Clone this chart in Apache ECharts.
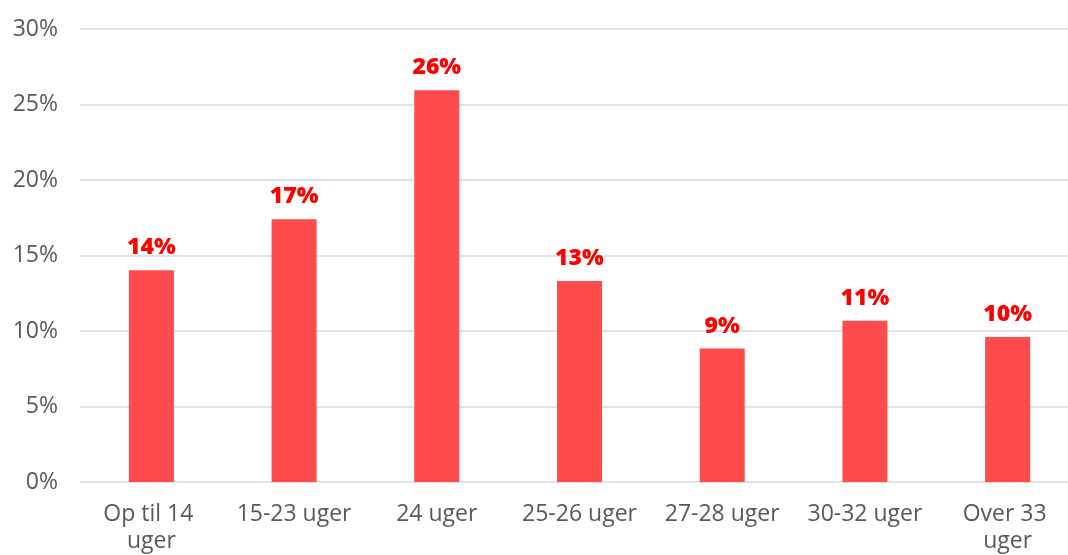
<!DOCTYPE html>
<html>
<head>
<meta charset="utf-8">
<script src="https://cdn.jsdelivr.net/npm/echarts@6/dist/echarts.min.js"></script>
<style>html,body{margin:0;padding:0;background:#fff;overflow:hidden}#wrap{width:1068px;height:555px;overflow:hidden;position:relative}#c{width:1079px;height:555px;position:absolute;left:0;top:0}</style>
</head>
<body>
<div id="wrap"><div id="c"></div></div>
<script>
const categories = ['Op til 14 uger', '15-23 uger', '24 uger', '25-26 uger', '27-28 uger', '30-32 uger', 'Over 33 uger'];
const values = [14.03, 17.4, 25.94, 13.31, 8.84, 10.68, 9.6];
const yTicks = { min: 0, max: 30, interval: 5 };

const chart = echarts.init(document.getElementById('c'), null, { renderer: 'canvas' });
chart.setOption({
  animation: false,
  grid: { left: 80, top: 29, right: 0, bottom: 67, containLabel: false },
  xAxis: {
    type: 'category',
    data: categories,
    axisLine: { show: false },
    axisTick: { show: false },
    axisLabel: {
      color: '#595959', fontFamily: 'Open Sans', fontSize: 23, margin: 19,
      width: 135, overflow: 'break', lineHeight: 27, interval: 0
    }
  },
  yAxis: {
    type: 'value',
    min: yTicks.min, max: yTicks.max, interval: yTicks.interval,
    axisLine: { show: false },
    axisTick: { show: false },
    axisLabel: { color: '#595959', fontFamily: 'Open Sans', fontSize: 23, margin: 22, formatter: v => v + '%' },
    splitLine: { lineStyle: { color: '#D9D9D9', width: 1.5 } }
  },
  series: [{
    type: 'bar',
    data: values,
    barWidth: 45,
    itemStyle: { color: '#FF4B4B' },
    label: {
      show: true, position: 'top', distance: 11,
      color: '#FF0000', fontFamily: 'Open Sans', fontWeight: 800, fontSize: 23,
      formatter: p => Math.round(p.value) + '%'
    }
  }]
});
</script>
</body>
</html>
